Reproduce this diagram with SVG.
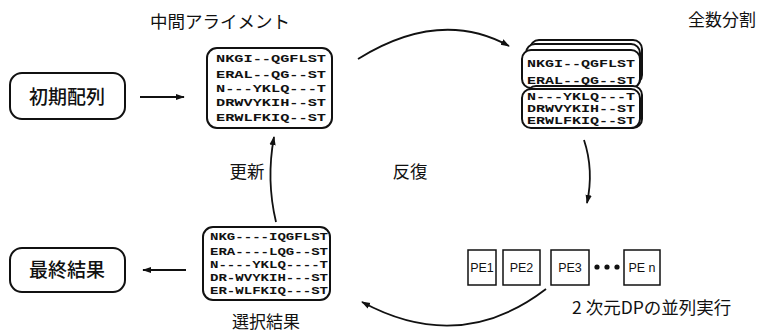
<svg xmlns="http://www.w3.org/2000/svg" width="780" height="334" viewBox="0 0 780 334">
<defs>
<marker id="ah" viewBox="0 0 10 10" refX="9" refY="5" markerWidth="9" markerHeight="9" markerUnits="userSpaceOnUse" orient="auto">
<path d="M0,1.5 L10,5 L0,8.5 Z" fill="#111"/>
</marker>
<style>
.lbl{font-family:"Noto Sans CJK JP","Noto Sans",sans-serif;fill:#111;}
.seq{font-family:"Liberation Mono","Courier New",monospace;font-weight:bold;font-size:11.5px;fill:#111;}
.box{fill:#fff;stroke:#111;stroke-width:2;}
.pe{fill:#fff;stroke:#111;stroke-width:1.5;}
.pet{font-family:"Liberation Sans","Noto Sans",sans-serif;font-size:12.5px;fill:#111;}
.conn{fill:none;stroke:#111;stroke-width:1.8;}
</style>
</defs>
<rect width="780" height="334" fill="#fff"/>

<g id="title-mid"><text class="lbl" x="150" y="28" font-size="17.5">中間アライメント</text></g>
<g id="title-split"><text class="lbl" x="688" y="26" font-size="17">全数分割</text></g>

<g id="initial">
<rect class="box" x="10" y="73" width="115" height="46" rx="12"/>
<text class="lbl" x="67" y="104" font-size="19" font-weight="500" text-anchor="middle">初期配列</text>
</g>

<g id="final">
<rect class="box" x="10" y="248" width="115" height="44" rx="12"/>
<text class="lbl" x="67" y="277" font-size="19" font-weight="500" text-anchor="middle">最終結果</text>
</g>

<g id="intermediate">
<rect class="box" x="207" y="48" width="125" height="80" rx="10"/>
<text class="seq" x="216" y="62" textLength="110" lengthAdjust="spacingAndGlyphs">NKGI--QGFLST</text>
<text class="seq" x="216" y="78" textLength="110" lengthAdjust="spacingAndGlyphs">ERAL--QG--ST</text>
<text class="seq" x="216" y="92" textLength="110" lengthAdjust="spacingAndGlyphs">N---YKLQ---T</text>
<text class="seq" x="216" y="106" textLength="110" lengthAdjust="spacingAndGlyphs">DRWVYKIH--ST</text>
<text class="seq" x="216" y="121" textLength="110" lengthAdjust="spacingAndGlyphs">ERWLFKIQ--ST</text>
</g>

<g id="split">
<rect class="box" x="530" y="40" width="112" height="44" rx="9" stroke-width="1.5"/>
<rect class="box" x="526" y="44" width="114" height="44" rx="9" stroke-width="1.5"/>
<rect class="box" x="522" y="50" width="118" height="38" rx="9"/>
<rect class="box" x="527" y="86" width="115" height="42" rx="9" stroke-width="1.5"/>
<rect class="box" x="522" y="89" width="118" height="39" rx="9"/>
<text class="seq" x="527" y="67" textLength="108" lengthAdjust="spacingAndGlyphs">NKGI--QGFLST</text>
<text class="seq" x="527" y="84" textLength="108" lengthAdjust="spacingAndGlyphs">ERAL--QG--ST</text>
<text class="seq" x="527" y="100" textLength="108" lengthAdjust="spacingAndGlyphs">N---YKLQ---T</text>
<text class="seq" x="527" y="112" textLength="108" lengthAdjust="spacingAndGlyphs">DRWVYKIH--ST</text>
<text class="seq" x="527" y="124" textLength="108" lengthAdjust="spacingAndGlyphs">ERWLFKIQ--ST</text>
</g>

<g id="selected">
<rect class="box" x="203" y="227" width="127" height="73" rx="10"/>
<text class="seq" x="210" y="240" textLength="118" lengthAdjust="spacingAndGlyphs">NKG----IQGFLST</text>
<text class="seq" x="210" y="255" textLength="118" lengthAdjust="spacingAndGlyphs">ERA----LQG--ST</text>
<text class="seq" x="210" y="268" textLength="118" lengthAdjust="spacingAndGlyphs">N----YKLQ----T</text>
<text class="seq" x="210" y="281" textLength="118" lengthAdjust="spacingAndGlyphs">DR-WVYKIH---ST</text>
<text class="seq" x="210" y="294" textLength="118" lengthAdjust="spacingAndGlyphs">ER-WLFKIQ---ST</text>
</g>
<g id="selected-label"><text class="lbl" x="232" y="328" font-size="17">選択結果</text></g>

<g id="pe-row">
<rect class="pe" x="468" y="250" width="28" height="35"/>
<text class="pet" x="482" y="272" text-anchor="middle">PE1</text>
<rect class="pe" x="503" y="250" width="37" height="35"/>
<text class="pet" x="521.5" y="272" text-anchor="middle">PE2</text>
<rect class="pe" x="551" y="250" width="38" height="35"/>
<text class="pet" x="570" y="272" text-anchor="middle">PE3</text>
<circle cx="597" cy="267" r="2.6" fill="#111"/>
<circle cx="607" cy="267" r="2.6" fill="#111"/>
<circle cx="617" cy="267" r="2.6" fill="#111"/>
<rect class="pe" x="624" y="250" width="36" height="35"/>
<text class="pet" x="642" y="272" text-anchor="middle">PE n</text>
</g>

<g id="label-update"><text class="lbl" x="247" y="178" font-size="17.5" text-anchor="middle">更新</text></g>
<g id="label-iterate"><text class="lbl" x="410" y="178" font-size="17.5" text-anchor="middle">反復</text></g>
<g id="label-dp"><text class="lbl" x="572" y="314" font-size="17.5">2 次元DPの並列実行</text></g>

<g id="connectors">
<path class="conn" d="M140,97 L184,97" marker-end="url(#ah)"/>
<path class="conn" d="M186,270 L143,270" marker-end="url(#ah)"/>
<path class="conn" d="M358,59 Q440,8 509,46" marker-end="url(#ah)"/>
<path class="conn" d="M584,140 Q594,170 587,203" marker-end="url(#ah)"/>
<path class="conn" d="M546,289 Q460,355 362,302" marker-end="url(#ah)"/>
<path class="conn" d="M276,222 Q266,180 274,137" marker-end="url(#ah)"/>
</g>
</svg>
